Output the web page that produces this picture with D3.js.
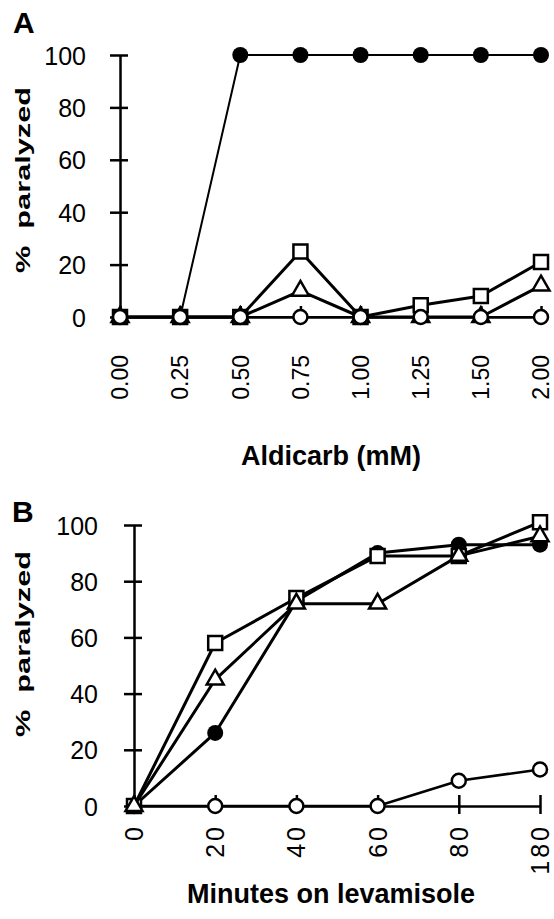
<!DOCTYPE html>
<html>
<head>
<meta charset="utf-8">
<script src="https://cdn.jsdelivr.net/npm/d3@7"></script>
<style>
  body { margin: 0; background: #fff; }
  text { font-family: "Liberation Sans", Arial, Helvetica, sans-serif; fill: #000; }
</style>
</head>
<body>
<div id="chart"></div>
<script>
const width = 554;
const height = 919;

// panel A: aldicarb dose response
const aDoses = ["0.00", "0.25", "0.50", "0.75", "1.00", "1.25", "1.50", "2.00"];
const aFilled = [0, 0, 100, 100, 100, 100, 100, 100];
const aSquare = [0, 0, 0, 25, 0, 4.5, 8, 21];
const aTriangle = [0, 0, 0, 10, 0, 0, 0, 12];
const aOpen = [0, 0, 0, 0, 0, 0, 0, 0];

// panel B: levamisole time course
const bMinutes = ["0", "20", "40", "60", "80", "180"];
const bFilled = [0, 26, 73, 90, 93, 93];
const bSquare = [0, 58, 74, 89, 89, 101];
const bTriangle = [0, 45, 72, 72, 89, 96];
const bOpen = [0, 0, 0, 0, 9, 13];

const yTicks = [0, 20, 40, 60, 80, 100];

const svg = d3.select('#chart')
    .append('svg')
    .attr('width', width)
    .attr('height', height);

function drawPanel(cfg) {
    const g = svg.append('g');
    const x = d3.scalePoint().domain(cfg.cats).range(cfg.xRange);
    const y = d3.scaleLinear().domain([0, 100]).range(cfg.yRange);

    // y axis, ticks cross the line
    const yAxis = g.append('g')
        .attr('transform', `translate(${cfg.xRange[0]},0)`)
        .call(d3.axisLeft(y).tickValues(yTicks).tickSize(10).tickSizeOuter(0).tickPadding(cfg.yPad));
    yAxis.selectAll('.tick line').attr('x1', 8);
    yAxis.selectAll('.tick text').style('font-size', '25px').attr('dy', '0.36em');

    // x axis
    const xAxis = g.append('g')
        .attr('transform', `translate(0,${cfg.yRange[0]})`)
        .call(d3.axisBottom(x).tickSize(8).tickSizeOuter(0));
    xAxis.selectAll('.tick line').attr('y1', -11);
    xAxis.selectAll('.tick text')
        .style('font-size', cfg.xFont)
        .style('letter-spacing', cfg.xSpacing)
        .attr('text-anchor', 'end')
        .attr('transform', 'rotate(-90)')
        .attr('x', -cfg.xPad)
        .attr('y', 0)
        .attr('dy', '0.34em');

    g.selectAll('.domain, .tick line')
        .attr('stroke', '#000')
        .attr('stroke-width', 2.5);
    g.selectAll('.tick text').attr('fill', '#000');

    const line = d3.line()
        .x((d, i) => x(cfg.cats[i]))
        .y(d => y(d));

    cfg.series.forEach(s => {
        const sg = g.append('g');
        sg.append('path')
            .datum(s.values)
            .attr('d', line)
            .attr('fill', 'none')
            .attr('stroke', '#000')
            .attr('stroke-width', s.lw)
            .attr('stroke-linejoin', 'round');

        const sym = d3.symbol().type(s.shape).size(s.size);
        sg.selectAll('path.mark')
            .data(s.values)
            .enter().append('path')
            .attr('class', 'mark')
            .attr('d', sym)
            .attr('transform', (d, i) => `translate(${x(cfg.cats[i])},${y(d)})`)
            .attr('fill', s.filled ? '#000' : '#fff')
            .attr('stroke', '#000')
            .attr('stroke-width', s.filled ? 0 : 2.5);
    });

    // panel letter
    g.append('text')
        .attr('x', cfg.letterPos[0])
        .attr('y', cfg.letterPos[1])
        .style('font-size', '30px')
        .style('font-weight', 'bold')
        .text(cfg.letter);

    // y title, stretched along its length like the original
    g.append('text')
        .attr('transform', `translate(30,${cfg.yTitleMid}) rotate(-90)`)
        .attr('text-anchor', 'middle')
        .attr('textLength', 186)
        .attr('lengthAdjust', 'spacingAndGlyphs')
        .style('font-size', '20px')
        .style('font-weight', 'bold')
        .style('white-space', 'pre')
        .text('%  paralyzed');

    // x title
    g.append('text')
        .attr('x', 331)
        .attr('y', cfg.xTitleY)
        .attr('text-anchor', 'middle')
        .style('font-size', '27px')
        .style('font-weight', 'bold')
        .text(cfg.xTitle);
}

const circleSize = Math.PI * 8 * 8;
const openSize = Math.PI * 7 * 7;
const squareSize = 14 * 14;
const triSize = Math.sqrt(3) / 4 * 17 * 17;

drawPanel({
    cats: aDoses,
    xRange: [120, 541],
    yRange: [317, 55],
    yPad: 24,
    xPad: 38,
    xFont: '23px',
    xSpacing: '0px',
    letter: 'A',
    letterPos: [13, 33],
    yTitleMid: 180,
    xTitle: 'Aldicarb (mM)',
    xTitleY: 465,
    series: [
        { values: aTriangle, shape: d3.symbolTriangle, size: triSize, filled: false, lw: 3 },
        { values: aSquare, shape: d3.symbolSquare, size: squareSize, filled: false, lw: 3 },
        { values: aFilled, shape: d3.symbolCircle, size: circleSize, filled: true, lw: 2 },
        { values: aOpen, shape: d3.symbolCircle, size: openSize, filled: false, lw: 2 }
    ]
});

drawPanel({
    cats: bMinutes,
    xRange: [134, 540],
    yRange: [806, 525],
    yPad: 26,
    xPad: 18,
    xFont: '25px',
    xSpacing: '3px',
    letter: 'B',
    letterPos: [12, 522],
    yTitleMid: 644,
    xTitle: 'Minutes on levamisole',
    xTitleY: 903,
    series: [
        { values: bFilled, shape: d3.symbolCircle, size: circleSize, filled: true, lw: 3 },
        { values: bOpen, shape: d3.symbolCircle, size: openSize, filled: false, lw: 2.5 },
        { values: bSquare, shape: d3.symbolSquare, size: squareSize, filled: false, lw: 3 },
        { values: bTriangle, shape: d3.symbolTriangle, size: triSize, filled: false, lw: 3 }
    ]
});
</script>
</body>
</html>
